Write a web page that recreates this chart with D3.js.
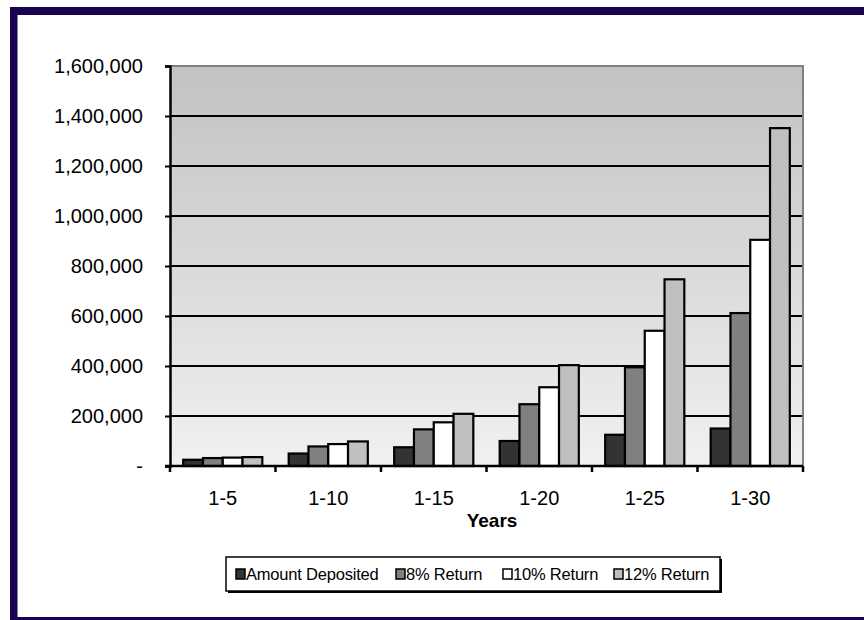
<!DOCTYPE html>
<html>
<head>
<meta charset="utf-8">
<script src="https://cdn.jsdelivr.net/npm/d3@7"></script>
<style>
  body { margin: 0; background: #fff; }
  svg text { font-family: "Liberation Sans", Arial, Helvetica, sans-serif; }
</style>
</head>
<body>
<div id="chart"></div>
<script>
// values
const categories = ["1-5", "1-10", "1-15", "1-20", "1-25", "1-30"];
const seriesNames = ["Amount Deposited", "8% Return", "10% Return", "12% Return"];
const amountDeposited = [25000, 50000, 75000, 100000, 125000, 150000];
const return8 = [31700, 78200, 146600, 247100, 394800, 611700];
const return10 = [33600, 87700, 174700, 315000, 540900, 904700];
const return12 = [35600, 98300, 208800, 403500, 746700, 1351500];
const yTicks = [0, 200000, 400000, 600000, 800000, 1000000, 1200000, 1400000, 1600000];
const seriesColors = ["#333333", "#808080", "#ffffff", "#c0c0c0"];

class DepositChart {
    constructor(_parentElement) {
        this.parentElement = _parentElement;
        this.initVis();
    }

    initVis() {
        let vis = this;

        vis.W = 864;
        vis.H = 620;
        vis.plot = { left: 170, right: 803, top: 66, bottom: 466 };

        vis.svg = d3.select("#" + vis.parentElement).append("svg")
            .attr("width", vis.W)
            .attr("height", vis.H);

        // dark frame round the chart (right side runs off the page)
        vis.svg.append("rect").attr("x", 10).attr("y", 7).attr("width", vis.W - 10).attr("height", 8).attr("fill", "#1a0250");
        vis.svg.append("rect").attr("x", 10).attr("y", 7).attr("width", 7.5).attr("height", vis.H - 7).attr("fill", "#1a0250");
        vis.svg.append("rect").attr("x", 10).attr("y", 617).attr("width", vis.W - 10).attr("height", 3).attr("fill", "#1a0250");

        // background gradient of plot area
        let grad = vis.svg.append("defs").append("linearGradient")
            .attr("id", "plotBg")
            .attr("x1", 0).attr("y1", 0).attr("x2", 0).attr("y2", 1);
        grad.append("stop").attr("offset", "0%").attr("stop-color", "#c2c2c2");
        grad.append("stop").attr("offset", "100%").attr("stop-color", "#f1f1f1");

        vis.svg.append("rect")
            .attr("x", vis.plot.left)
            .attr("y", vis.plot.top)
            .attr("width", vis.plot.right - vis.plot.left)
            .attr("height", vis.plot.bottom - vis.plot.top)
            .attr("fill", "url(#plotBg)");

        vis.x = d3.scaleBand().domain(categories).range([vis.plot.left, vis.plot.right]);
        vis.y = d3.scaleLinear().domain([0, 1600000]).range([vis.plot.bottom, vis.plot.top]);

        let bw = vis.x.bandwidth();
        vis.xSub = d3.scaleBand().domain(seriesNames).range([bw * 0.125, bw * 0.875]);

        vis.data = categories.map((c, i) => ({
            cat: c,
            values: [amountDeposited[i], return8[i], return10[i], return12[i]]
        }));

        vis.updateVis();
    }

    updateVis() {
        let vis = this;
        let p = vis.plot;

        // gridlines
        vis.svg.append("g").selectAll("line")
            .data(yTicks.filter(d => d > 0 && d < 1600000))
            .join("line")
            .attr("x1", p.left).attr("x2", p.right)
            .attr("y1", d => vis.y(d)).attr("y2", d => vis.y(d))
            .attr("stroke", "#000")
            .attr("stroke-width", 2);

        // top and right border of plot area
        vis.svg.append("path")
            .attr("d", `M${p.left},${p.top}H${p.right}V${p.bottom}`)
            .attr("fill", "none")
            .attr("stroke", "#808080")
            .attr("stroke-width", 2);

        // bars
        let groups = vis.svg.append("g").selectAll("g")
            .data(vis.data)
            .join("g")
            .attr("transform", d => `translate(${vis.x(d.cat)},0)`);

        groups.selectAll("rect")
            .data(d => d.values.map((v, j) => ({ name: seriesNames[j], value: v, idx: j })))
            .join("rect")
            .attr("x", d => vis.xSub(d.name))
            .attr("width", vis.xSub.bandwidth())
            .attr("y", d => vis.y(d.value))
            .attr("height", d => vis.y(0) - vis.y(d.value))
            .attr("fill", d => seriesColors[d.idx])
            .attr("stroke", "#000")
            .attr("stroke-width", 2.2);

        // y axis
        let yAxis = d3.axisLeft(vis.y)
            .tickValues(yTicks)
            .tickSize(5)
            .tickPadding(22)
            .tickFormat(d => d === 0 ? "-" : d3.format(",")(d));

        let yG = vis.svg.append("g")
            .attr("transform", `translate(${p.left},0)`)
            .call(yAxis);
        yG.select(".domain").attr("stroke", "#000").attr("stroke-width", 2.5);
        yG.selectAll(".tick line").attr("stroke", "#000").attr("stroke-width", 2);
        yG.selectAll("text").attr("font-size", 20).attr("fill", "#000");

        // x axis, ticks sit on the category boundaries
        let xG = vis.svg.append("g")
            .attr("transform", `translate(0,${p.bottom})`);
        xG.append("line")
            .attr("x1", p.left - 5).attr("x2", p.right)
            .attr("stroke", "#000").attr("stroke-width", 2.5);
        let bounds = categories.map(c => vis.x(c)).concat([p.right]);
        xG.selectAll(".xtick")
            .data(bounds)
            .join("line")
            .attr("class", "xtick")
            .attr("x1", d => d).attr("x2", d => d)
            .attr("y1", 0).attr("y2", 6)
            .attr("stroke", "#000").attr("stroke-width", 2.5);
        xG.selectAll(".xlabel")
            .data(categories)
            .join("text")
            .attr("class", "xlabel")
            .attr("x", d => vis.x(d) + vis.x.bandwidth() / 2)
            .attr("y", 39)
            .attr("text-anchor", "middle")
            .attr("font-size", 20)
            .text(d => d);

        vis.svg.append("text")
            .attr("x", 492)
            .attr("y", 527)
            .attr("text-anchor", "middle")
            .attr("font-size", 19)
            .attr("font-weight", "bold")
            .text("Years");

        // legend
        let lg = vis.svg.append("g").attr("transform", "translate(226,557)");
        lg.append("rect").attr("x", 2).attr("y", 2).attr("width", 494).attr("height", 34).attr("fill", "#000");
        lg.append("rect").attr("x", 0).attr("y", 0).attr("width", 494).attr("height", 34)
            .attr("fill", "#fff").attr("stroke", "#000").attr("stroke-width", 1.5);

        let itemX = [10, 170, 277, 388];
        let items = lg.selectAll(".item")
            .data(seriesNames)
            .join("g")
            .attr("class", "item")
            .attr("transform", (d, i) => `translate(${itemX[i]},0)`);
        items.append("rect")
            .attr("x", 0).attr("y", 12)
            .attr("width", 9).attr("height", 10)
            .attr("fill", (d, i) => seriesColors[i])
            .attr("stroke", "#000").attr("stroke-width", 1.5);
        items.append("text")
            .attr("x", 10)
            .attr("y", 23)
            .attr("font-size", 16.5)
            .attr("letter-spacing", -0.2)
            .text(d => d);
    }
}

new DepositChart("chart");
</script>
</body>
</html>
